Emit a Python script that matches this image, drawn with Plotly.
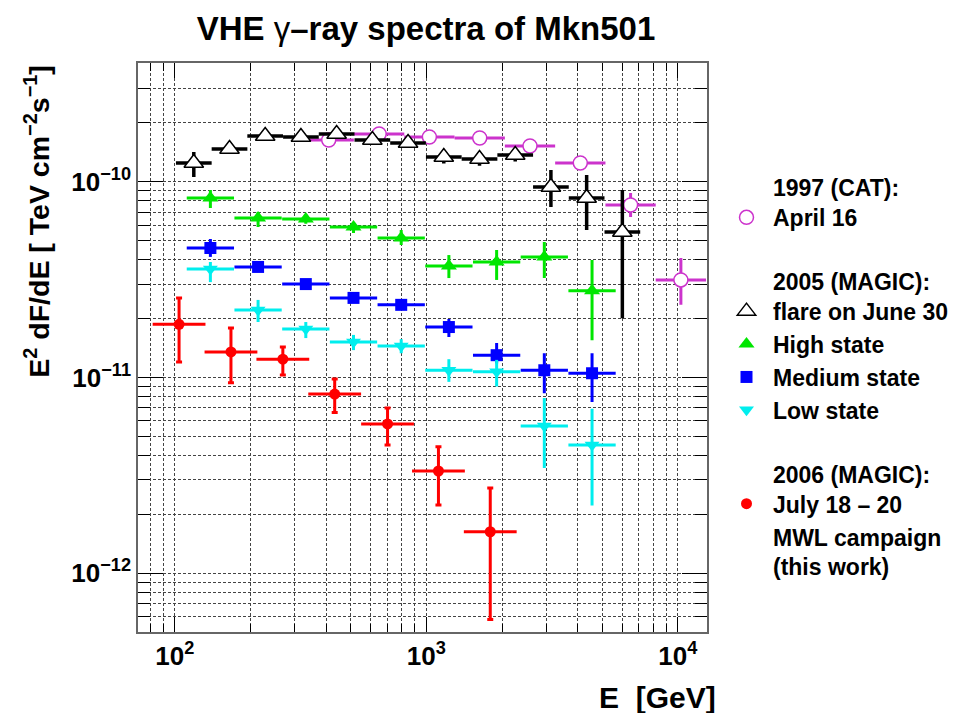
import numpy as np
import plotly.graph_objects as go

UNIT = 1e-10  # flux values below are in units of 1e-10 TeV cm^-2 s^-1

# ---------------- data ----------------
# 1997 CAT, April 16
E_cat = [409, 649, 1028, 1630, 2583, 4094, 6488, 10283]
F_cat = [1.633, 1.752, 1.692, 1.672, 1.521, 1.246, 0.760, 0.315]
Fup_cat = [0.05, 0.05, 0.05, 0.05, 0.06, 0.10, 0.116, 0.093]
Fdn_cat = [0.05, 0.05, 0.05, 0.05, 0.06, 0.10, 0.100, 0.080]

# 2005 MAGIC, flare on June 30
E_flare = [118.9, 164.9, 228.6, 317.1, 439.7, 609.8, 845.6, 1173, 1627, 2256, 3128, 4339, 6017]
F_flare = [1.246, 1.469, 1.712, 1.692, 1.752, 1.633, 1.576, 1.337, 1.306, 1.369, 0.940, 0.826, 0.554]
Fup_flare = [0.17, 0.06, 0.06, 0.06, 0.06, 0.06, 0.07, 0.10, 0.10, 0.10, 0.207, 0.256, 0.353]
Fdn_flare = [0.19, 0.06, 0.06, 0.06, 0.06, 0.06, 0.07, 0.10, 0.10, 0.10, 0.197, 0.259, 0.353]

# 2005 MAGIC states (common energy bins)
E_states = [138.4, 214.2, 331.6, 513.2, 794.3, 1229, 1903, 2945, 4559]
F_high = [0.826, 0.653, 0.645, 0.587, 0.516, 0.371, 0.389, 0.412, 0.277]
Fup_high = [0.081, 0.047, 0.035, 0.036, 0.051, 0.051, 0.059, 0.080, 0.121]
Fdn_high = [0.092, 0.066, 0.035, 0.040, 0.041, 0.049, 0.074, 0.090, 0.122]

F_medium = [0.459, 0.367, 0.300, 0.255, 0.235, 0.181, 0.130, 0.109, 0.105]
Fup_medium = [0.051, 0.015, 0.012, 0.010, 0.010, 0.018, 0.020, 0.024, 0.028]
Fdn_medium = [0.046, 0.015, 0.012, 0.010, 0.010, 0.020, 0.012, 0.026, 0.030]

F_low = [0.358, 0.221, 0.177, 0.152, 0.145, 0.109, 0.107, 0.0565, 0.0452]
Fup_low = [0.031, 0.028, 0.015, 0.013, 0.012, 0.015, 0.016, 0.022, 0.024]
Fdn_low = [0.051, 0.029, 0.018, 0.014, 0.012, 0.014, 0.017, 0.022, 0.023]

# 2006 MAGIC, July 18-20 MWL campaign
E_mwl = [103.9, 167.1, 268.7, 432.0, 700.9, 1117, 1795]
F_mwl = [0.187, 0.135, 0.124, 0.0823, 0.0579, 0.0333, 0.0163]
Fup_mwl = [0.068, 0.044, 0.019, 0.016, 0.012, 0.011, 0.011]
Fdn_mwl = [0.067, 0.041, 0.021, 0.016, 0.0127, 0.011, 0.0105]

# half bin widths in decades of energy
HW_cat, HW_flare, HW_states, HW_mwl = 0.100, 0.071, 0.094, 0.105

x_ticks = [1e2, 1e3, 1e4]
x_ticktext = ["10<sup>2</sup>", "10<sup>3</sup>", "10<sup>4</sup>"]
y_ticks = [1e-12, 1e-11, 1e-10]
y_ticktext = ["10<sup>\u221212</sup>", "10<sup>\u221211</sup>", "10<sup>\u221210</sup>"]

FONT = "Liberation Sans"

fig = go.Figure()


def add_series(E, F, up, dn, hw, name, group, symbol, size, color, fill,
               lw=0, bar=3, cap=0):
    E = np.asarray(E, dtype=float)
    xp = E * (10 ** hw - 1)
    xm = E * (1 - 10 ** (-hw))
    fig.add_trace(go.Scatter(
        x=E, y=np.asarray(F) * UNIT, mode="markers", name=name,
        legendgroup=group,
        marker=dict(symbol=symbol, size=size, color=fill,
                    line=dict(color=color, width=lw)),
        error_x=dict(type="data", symmetric=False, array=xp, arrayminus=xm,
                     color=color, thickness=bar, width=0),
        error_y=dict(type="data", symmetric=False,
                     array=np.asarray(up) * UNIT, arrayminus=np.asarray(dn) * UNIT,
                     color=color, thickness=bar, width=cap),
    ))


add_series(E_cat, F_cat, Fup_cat, Fdn_cat, HW_cat,
           "1997 (CAT):<br>April 16", "a", "circle", 14, "#cc33cc", "white", lw=1.5)
add_series(E_flare, F_flare, Fup_flare, Fdn_flare, HW_flare,
           "2005 (MAGIC):<br>flare on June 30", "b", "triangle-up", 17, "black", "white",
           lw=1.5, bar=3.5)
add_series(E_states, F_high, Fup_high, Fdn_high, HW_states,
           "High state", "b", "triangle-up", 14, "#00e600", "#00e600")
add_series(E_states, F_medium, Fup_medium, Fdn_medium, HW_states,
           "Medium state", "b", "square", 12, "#0000ff", "#0000ff")
add_series(E_states, F_low, Fup_low, Fdn_low, HW_states,
           "Low state", "b", "triangle-down", 13, "#00eeee", "#00eeee")
add_series(E_mwl, F_mwl, Fup_mwl, Fdn_mwl, HW_mwl,
           "2006 (MAGIC):<br>July 18 \u2013 20", "c", "circle", 11, "#ff0000", "#ff0000", cap=3)
# text-only legend continuation
fig.add_trace(go.Scatter(x=[None], y=[None], mode="markers", name="MWL campaign<br>(this work)",
                         legendgroup="c", marker=dict(opacity=0, size=1, color="white"),
                         hoverinfo="skip"))

grid = dict(showgrid=True, gridcolor="#444444", griddash="3px,2px", gridwidth=1)

fig.update_xaxes(
    type="log", range=[1.8533, 4.114],
    tickmode="array", tickvals=x_ticks, ticktext=x_ticktext,
    ticks="inside", ticklen=15, tickwidth=1, tickcolor="black",
    showline=True, mirror="ticks", linecolor="#666666", linewidth=1.5,
    tickfont=dict(family=FONT, size=26, color="black", weight="bold"),
    zeroline=False,
    minor=dict(dtick="D1", ticks="inside", ticklen=8, tickcolor="black", **grid),
    **grid,
)
fig.update_yaxes(
    type="log", range=[-12.2998, -9.3938],
    tickmode="array", tickvals=y_ticks, ticktext=y_ticktext,
    ticks="inside", ticklen=25, tickwidth=1, tickcolor="black",
    showline=True, mirror="ticks", linecolor="#666666", linewidth=1.5,
    tickfont=dict(family=FONT, size=26, color="black", weight="bold"),
    zeroline=False,
    minor=dict(dtick="D1", ticks="inside", ticklen=12, tickcolor="black", **grid),
    **grid,
)

fig.update_layout(
    width=961, height=713,
    margin=dict(l=138, r=242, t=63, b=81),
    paper_bgcolor="white", plot_bgcolor="white",
    font=dict(family=FONT, color="black"),
    title=dict(text="<b>VHE </b>\u03b3<b>\u2013ray spectra of Mkn501</b>",
               x=426 / 961, xanchor="center", y=1 - 28 / 713, yanchor="middle",
               xref="container", yref="container",
               font=dict(family=FONT, size=33, color="black")),
    showlegend=True,
    legend=dict(xref="container", yref="container", x=720 / 961, y=1 - 166 / 713,
                xanchor="left", yanchor="top", traceorder="grouped",
                itemwidth=43, maxheight=650,
                tracegroupgap=31, valign="bottom", bgcolor="rgba(0,0,0,0)",
                font=dict(family=FONT, size=23, color="black", weight="bold")),
    annotations=[
        dict(text="<b>E  [GeV]</b>", xref="paper", yref="paper",
             x=(731 - 138) / 581, y=(632 - 697) / 569, xanchor="right", yanchor="middle",
             showarrow=False, font=dict(family=FONT, size=30, color="black")),
        dict(text="<b>E<sup>2</sup> dF/dE [ TeV cm<sup>\u22122</sup>s<sup>\u22121</sup>]</b>",
             xref="paper", yref="paper", x=(34 - 138) / 581, y=1.0,
             xanchor="center", yanchor="top", textangle=-90, showarrow=False,
             font=dict(family=FONT, size=28.5, color="black")),
    ],
)

fig.write_html("out.html")
